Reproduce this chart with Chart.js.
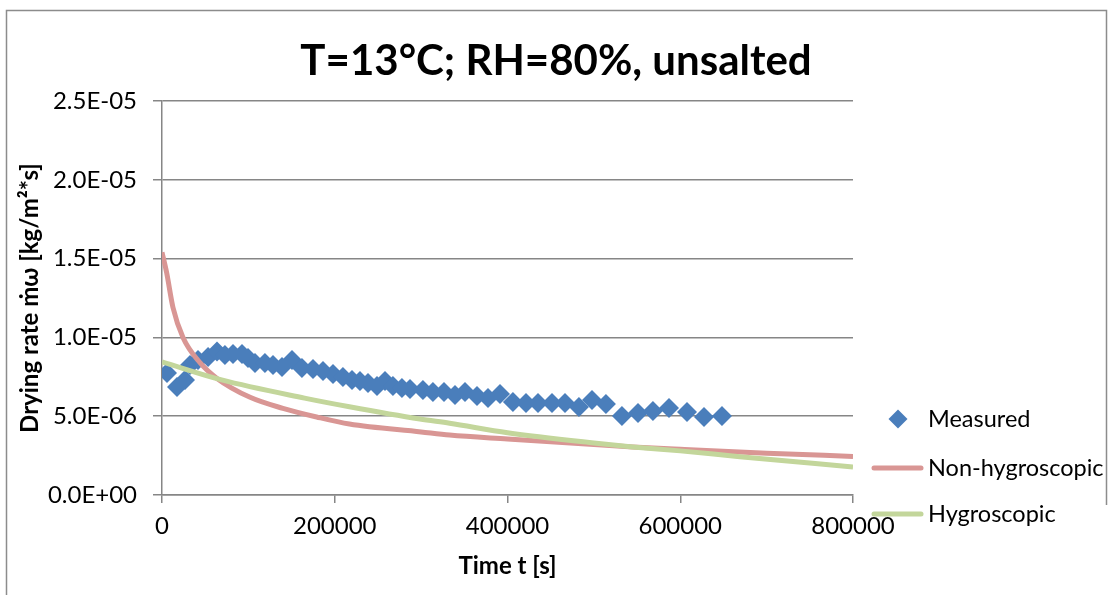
<!DOCTYPE html>
<html>
<head>
<meta charset="utf-8">
<title>Drying rate</title>
<script src="https://cdn.jsdelivr.net/npm/chart.js@4.4.1/dist/chart.umd.min.js"></script>
<style>
  html, body { margin: 0; padding: 0; background: #fff; }
  #wrap { width: 1111px; height: 595px; position: relative; }
</style>
</head>
<body>
<div id="wrap"><canvas id="dryingChart"></canvas></div>
<script>
// measured drying rate (time in s, rate in kg/m2s)
const measuredT = [5800, 17400, 26600, 32400, 41700, 53300, 63700, 72900, 82200, 92600,
  99600, 107700, 119200, 128500, 138900, 150500, 162000, 174800, 186400, 198000,
  209500, 220000, 229200, 238500, 248900, 258200, 267400, 277800, 287100, 302100,
  313700, 326500, 339200, 350800, 364700, 377400, 391300, 406300, 421400, 435300,
  451500, 466600, 482700, 497800, 514000, 532500, 551100, 568400, 587000, 607800,
  627500, 648300];
const measuredRate = [7.74, 6.85, 7.30, 8.25, 8.57, 8.76, 9.10, 8.88, 8.95, 8.95,
  8.69, 8.38, 8.38, 8.25, 8.12, 8.57, 8.06, 8.00, 7.87, 7.68,
  7.49, 7.30, 7.23, 7.11, 6.92, 7.23, 6.92, 6.79, 6.73, 6.66,
  6.54, 6.54, 6.35, 6.54, 6.28, 6.15, 6.41, 5.90, 5.84, 5.84,
  5.84, 5.84, 5.58, 6.03, 5.77, 5.01, 5.20, 5.33, 5.52, 5.27,
  4.95, 5.01].map(v => v * 1e-6);

// model curves
const nonHygT = [0, 5400, 12700, 24300, 44000, 63700, 102000, 140000, 179000, 217000,
  300000, 333000, 400000, 500000, 545000, 600000, 700000, 800000];
const nonHygRate = [15.4, 14.1, 11.9, 10.0, 8.4, 7.4, 6.2, 5.5, 4.95, 4.5,
  4.0, 3.8, 3.55, 3.2, 3.05, 2.9, 2.65, 2.45].map(v => v * 1e-6);

const hygT = [0, 69000, 165000, 217000, 298600, 333000, 400000, 500000, 545000, 600000,
  669000, 800000];
const hygRate = [8.44, 7.3, 6.15, 5.6, 4.82, 4.55, 3.95, 3.3, 3.05, 2.8,
  2.43, 1.78].map(v => v * 1e-6);

const xTicks = [0, 200000, 400000, 600000, 800000];
const yTickLabels = ['0.0E+00', '5.0E-06', '1.0E-05', '1.5E-05', '2.0E-05', '2.5E-05'];
const chartTitle = 'T=13°C; RH=80%, unsalted';

const FONT = 'Lato, "Open Sans", sans-serif';
const GRID = '#868686';

function pairs(xs, ys) {
  return xs.map((x, i) => ({ x: x, y: ys[i] }));
}

// outer frame + title
const frame = {
  id: 'frame',
  beforeDraw(chart) {
    const ctx = chart.ctx;
    ctx.save();
    ctx.fillStyle = '#fff';
    ctx.fillRect(0, 0, chart.width, chart.height);
    ctx.strokeStyle = '#8c8c8c';
    ctx.lineWidth = 1.5;
    ctx.beginPath();
    ctx.moveTo(6.5, 600);
    ctx.lineTo(6.5, 10.5);
    ctx.lineTo(1106.5, 10.5);
    ctx.lineTo(1106.5, 505);
    ctx.stroke();
    ctx.fillStyle = '#000';
    ctx.font = 'bold 42px ' + FONT;
    ctx.textAlign = 'center';
    ctx.textBaseline = 'middle';
    ctx.fillText(chartTitle, 556, 61);
    ctx.restore();
  }
};

// legend to the right of the plot
const sideLegend = {
  id: 'sideLegend',
  afterDraw(chart) {
    const ctx = chart.ctx;
    const ds = chart.data.datasets;
    const rows = [419, 468, 514];
    ctx.save();
    ctx.font = '23.5px ' + FONT;
    ctx.textBaseline = 'middle';
    ds.forEach((d, i) => {
      const y = rows[i];
      if (d.showLine === false) {
        ctx.fillStyle = d.backgroundColor;
        ctx.beginPath();
        ctx.moveTo(898, y - 9.5);
        ctx.lineTo(907.5, y);
        ctx.lineTo(898, y + 9.5);
        ctx.lineTo(888.5, y);
        ctx.closePath();
        ctx.fill();
      } else {
        ctx.strokeStyle = d.borderColor;
        ctx.lineWidth = 5;
        ctx.lineCap = 'round';
        ctx.beginPath();
        ctx.moveTo(874, y);
        ctx.lineTo(921, y);
        ctx.stroke();
      }
      ctx.fillStyle = '#000';
      ctx.fillText(d.label, 928, y);
    });
    ctx.restore();
  }
};

new Chart(document.getElementById('dryingChart'), {
  type: 'scatter',
  data: {
    datasets: [{
      label: 'Measured',
      data: pairs(measuredT, measuredRate),
      showLine: false,
      pointStyle: 'rectRot',
      pointRadius: 10,
      pointBorderWidth: 0,
      backgroundColor: '#4a7ebb',
      borderColor: '#4a7ebb',
      order: 3
    }, {
      label: 'Non-hygroscopic',
      data: pairs(nonHygT, nonHygRate),
      showLine: true,
      pointRadius: 0,
      borderWidth: 5,
      borderColor: '#d99694',
      backgroundColor: '#d99694',
      cubicInterpolationMode: 'monotone',
      order: 2
    }, {
      label: 'Hygroscopic',
      data: pairs(hygT, hygRate),
      showLine: true,
      pointRadius: 0,
      borderWidth: 5,
      borderColor: '#c3d69b',
      backgroundColor: '#c3d69b',
      cubicInterpolationMode: 'monotone',
      order: 1
    }]
  },
  options: {
    responsive: true,
    maintainAspectRatio: false,
    animation: false,
    layout: { padding: { left: 8, top: 101, right: 258, bottom: 0 } },
    plugins: {
      legend: { display: false },
      tooltip: { enabled: false },
      title: { display: false }
    },
    scales: {
      x: {
        type: 'linear',
        min: 0,
        max: 800000,
        afterBuildTicks(scale) { scale.ticks = xTicks.map(v => ({ value: v })); },
        afterFit(scale) { scale.height = 100; },
        ticks: {
          color: '#000',
          font: { family: FONT, size: 24 },
          padding: 9,
          maxRotation: 0,
          callback: v => String(v)
        },
        grid: { drawOnChartArea: false, color: GRID, tickLength: 8, lineWidth: 1.5 },
        border: { color: GRID, width: 1.5 },
        title: {
          display: true,
          text: 'Time t [s]',
          color: '#000',
          font: { family: FONT, size: 24, weight: 'bold' },
          padding: { top: 0, bottom: 14 }
        }
      },
      y: {
        min: 0,
        max: 2.5e-5,
        afterBuildTicks(scale) { scale.ticks = yTickLabels.map(s => ({ value: parseFloat(s) })); },
        afterFit(scale) { scale.width = 154; },
        ticks: {
          color: '#000',
          font: { family: FONT, size: 24 },
          padding: 16,
          callback: (v, i) => yTickLabels[i]
        },
        grid: { color: GRID, tickLength: 9, lineWidth: 1.5 },
        border: { color: GRID, width: 1.5 },
        title: {
          display: true,
          text: 'Drying rate ṁω [kg/m²*s]',
          color: '#000',
          font: { family: FONT, size: 24, weight: 'bold' },
          padding: { top: 8, bottom: 0 }
        }
      }
    }
  },
  plugins: [frame, sideLegend]
});
</script>
</body>
</html>
